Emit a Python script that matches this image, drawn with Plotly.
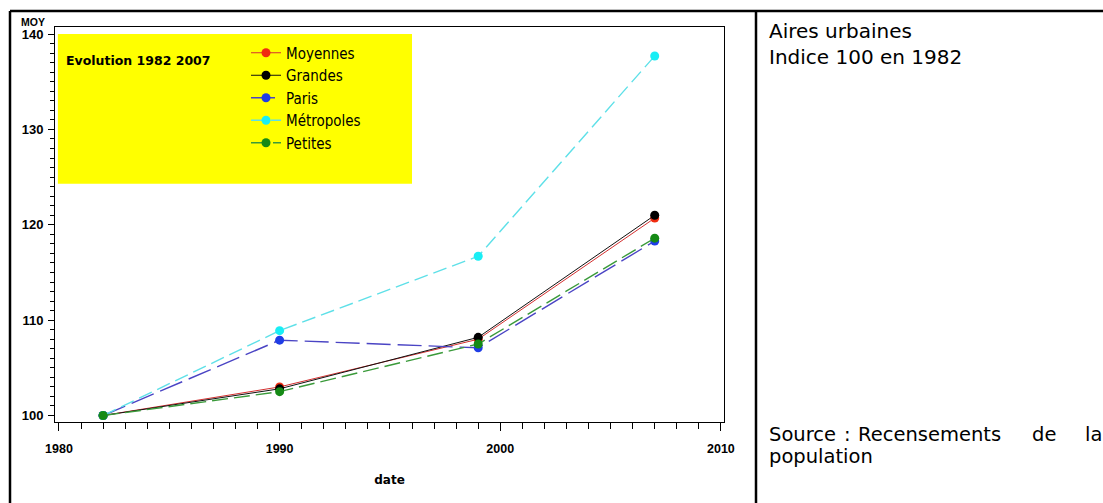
import plotly.graph_objects as go

# ---- data ----
years = [1982, 1990, 1999, 2007]
series_names = ["Moyennes", "Grandes", "Paris", "Métropoles", "Petites"]
moyennes = [100, 103.0, 108.0, 120.7]
grandes = [100, 102.8, 108.2, 121.0]
paris = [100, 107.9, 107.1, 118.3]
metropoles = [100, 108.9, 116.7, 137.7]
petites = [100, 102.5, 107.5, 118.6]
x_ticks = [1980, 1990, 2000, 2010]
y_ticks = [100, 110, 120, 130, 140]

# ---- styles ----
marker_colors = ["#f02c10", "#000000", "#1f3de6", "#19eef5", "#158a15"]
line_colors = ["#d43030", "#111111", "#4a44c4", "#5ee0e8", "#3a9a3a"]
dashes = ["solid", "solid", "24px,7px", "14px,6px", "16px,6px"]
widths = [1, 1, 1.4, 1.4, 1.4]
values = [moyennes, grandes, paris, metropoles, petites]

W, H = 1103, 503
ML, MR, MT, MB = 55, 379, 27, 81
PW = W - ML - MR
PH = H - MT - MB


def px_x(x):
    return (x - ML) / PW


def px_y(y):
    return (H - MB - y) / PH


fig = go.Figure()
for name, vals, mc, lc, d, w in zip(series_names, values, marker_colors,
                                    line_colors, dashes, widths):
    fig.add_trace(go.Scatter(
        x=years, y=vals, name=name, mode="lines+markers",
        line=dict(color=lc, width=w, dash=d),
        marker=dict(color=mc, size=9, symbol="circle"),
    ))

bold_tick = dict(family="Liberation Sans, Arial, sans-serif", size=12.5,
                 color="black", weight="bold")

fig.update_layout(
    width=W, height=H,
    margin=dict(l=ML, r=MR, t=MT, b=MB, pad=0, autoexpand=False),
    paper_bgcolor="white", plot_bgcolor="white",
    showlegend=True,
    legend=dict(
        x=px_x(246), y=px_y(36.5), xanchor="left", yanchor="top",
        bgcolor="rgba(0,0,0,0)", borderwidth=0,
        font=dict(family="Liberation Sans Narrow, DejaVu Sans Condensed, sans-serif",
                  size=15, color="black"),
        tracegroupgap=0,
    ),
    xaxis=dict(
        range=[1979.82, 2010.14], tickvals=x_ticks, ticks="outside",
        ticklen=8, tickwidth=1, tickcolor="black",
        showline=True, linecolor="black", linewidth=1, mirror=True,
        showgrid=False, zeroline=False,
        tickfont=bold_tick, ticklabelstandoff=7,
        minor=dict(dtick=1, tick0=1980, ticks="outside", ticklen=6,
                   tickcolor="black", tickwidth=1, showgrid=False),
        title=dict(text="date", standoff=20,
                   font=dict(family="DejaVu Sans, sans-serif", size=12,
                             color="black", weight="bold")),
    ),
    yaxis=dict(
        range=[99.32, 140.74], tickvals=y_ticks, ticks="outside",
        ticklen=6, tickwidth=1, tickcolor="black",
        showline=True, linecolor="black", linewidth=1, mirror=True,
        showgrid=False, zeroline=False,
        tickfont=dict(family="Liberation Sans, Arial, sans-serif", size=13,
                      color="black", weight="bold"),
        ticklabelstandoff=2,
        minor=dict(dtick=1, tick0=100, ticks="outside", ticklen=4,
                   tickcolor="black", tickwidth=1, showgrid=False),
    ),
)

# yellow legend box (data coords)
fig.add_shape(type="rect", xref="x", yref="y", x0=1979.95, x1=1996.0,
              y0=124.3, y1=140.0, fillcolor="#ffff00",
              line=dict(width=0), layer="below")

# outer frame lines
frame = dict(color="black", width=2.5)
fig.add_shape(type="line", xref="paper", yref="paper",
              x0=px_x(10), x1=px_x(W + 5), y0=px_y(11), y1=px_y(11), line=frame)
fig.add_shape(type="line", xref="paper", yref="paper",
              x0=px_x(10), x1=px_x(10), y0=px_y(11), y1=px_y(H + 5), line=frame)
fig.add_shape(type="line", xref="paper", yref="paper",
              x0=px_x(756), x1=px_x(756), y0=px_y(11), y1=px_y(H + 5), line=frame)

# annotations
fig.add_annotation(text="MOY", xref="paper", yref="paper",
                   x=px_x(33), y=px_y(22.5), showarrow=False,
                   xanchor="center", yanchor="middle",
                   font=dict(family="Liberation Sans, Arial, sans-serif",
                             size=10.5, color="black", weight="bold"))
fig.add_annotation(text="Evolution 1982 2007", xref="paper", yref="paper",
                   x=px_x(64), y=px_y(60.5), showarrow=False,
                   xanchor="left", yanchor="middle",
                   font=dict(family="DejaVu Sans, sans-serif", size=12.5,
                             color="black", weight="bold"))

side_font = dict(family="Comic Sans MS, DejaVu Sans, sans-serif", size=20,
                 color="black")
fig.add_annotation(text="Aires urbaines<br>Indice 100 en 1982",
                   xref="paper", yref="paper",
                   x=px_x(767), y=px_y(17), showarrow=False, align="left",
                   xanchor="left", yanchor="top", font=side_font)

src_font = dict(family="Comic Sans MS, DejaVu Sans, sans-serif", size=19.5,
                color="black")
source_words = ["Source", ":", "Recensements", "de", "la"]
source_x = [767, 842, 856, 1030, 1083]
for wd, xx in zip(source_words, source_x):
    fig.add_annotation(text=wd, xref="paper", yref="paper",
                       x=px_x(xx), y=px_y(434), showarrow=False,
                       xanchor="left", yanchor="middle", font=src_font)
fig.add_annotation(text="population", xref="paper", yref="paper",
                   x=px_x(767), y=px_y(456), showarrow=False,
                   xanchor="left", yanchor="middle", font=src_font)

fig.write_html(
    "out.html",
    config={"displayModeBar": False},
    post_script="document.body.style.margin='0';document.body.style.padding='0';",
)
